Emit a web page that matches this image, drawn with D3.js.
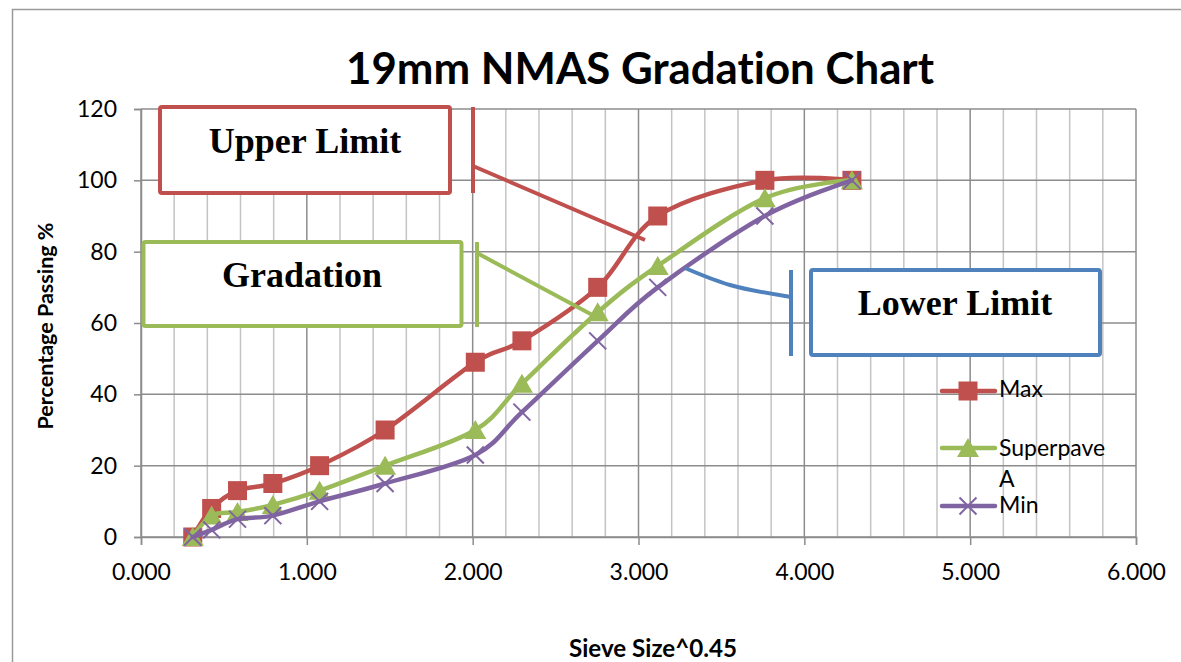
<!DOCTYPE html>
<html>
<head>
<meta charset="utf-8">
<title>19mm NMAS Gradation Chart</title>
<script src="https://cdn.jsdelivr.net/npm/d3@7/dist/d3.min.js"></script>
<style>
  html, body { margin: 0; padding: 0; background: #ffffff; }
  svg { display: block; }
  text { font-variant-ligatures: none; font-feature-settings: "liga" 0; }
</style>
</head>
<body>
<svg id="chart" width="1181" height="662"></svg>
<script>
// Sieve size raised to the 0.45 power (x) and percent passing (y)
const sieveX      = [0.312, 0.426, 0.582, 0.795, 1.077, 1.472, 2.016, 2.297, 2.754, 3.116, 3.762, 4.287];
const maxPassing  = [0, 8, 13, 15, 20, 30, 49, 55, 70, 90, 100, 100];
const superpaveA  = [0, 6, 7, 9, 13, 20, 30, 43, 63, 76, 95, 100];
const minPassing  = [0, 2, 5, 6, 10, 15, 23, 35, 55, 70, 90, 100];
const seriesNames = ["Max", "Superpave A", "Min"];
const xTicks = [0, 1, 2, 3, 4, 5, 6];
const yTicks = [0, 20, 40, 60, 80, 100, 120];
const calloutLabels = ["Upper Limit", "Gradation", "Lower Limit"];

const colors = { Max: "#C0504D", "Superpave A": "#9BBB59", Min: "#8064A2", callout: "#4F81BD" };
const sansFont = "Lato, 'Open Sans', sans-serif";
const serifFont = "'Liberation Serif', 'Times New Roman', serif";

const svg = d3.select("#chart");
const W = 1181, H = 662;
const plot = { left: 141, right: 1136, top: 109, bottom: 537 };

const x = d3.scaleLinear().domain([0, 6]).range([plot.left, plot.right]);
const y = d3.scaleLinear().domain([0, 120]).range([plot.bottom, plot.top]);

// background and outer chart border
svg.append("rect").attr("width", W).attr("height", H).attr("fill", "#fff");
svg.append("rect")
  .attr("x", 12.5).attr("y", 9.5).attr("width", W + 20).attr("height", H + 20)
  .attr("fill", "none").attr("stroke", "#9a9a9a").attr("stroke-width", 1.5);

// helper: scale a text's font size so it spans a given width
function fitWidth(sel, target) {
  const w = sel.node().getComputedTextLength();
  const fs = parseFloat(sel.attr("font-size"));
  sel.attr("font-size", (fs * target / w).toFixed(2));
  return sel;
}

// title
fitWidth(svg.append("text")
  .attr("x", 640).attr("y", 84)
  .attr("text-anchor", "middle")
  .attr("font-family", sansFont).attr("font-weight", 700).attr("font-size", 40)
  .attr("fill", "#000")
  .text("19mm NMAS Gradation Chart"), 588);

// gridlines: light minor verticals every 0.2, darker major lines at ticks
const grid = svg.append("g");
const minorX = d3.range(0, 30.5, 1).map(i => i / 5).filter(v => Math.abs(v - Math.round(v)) > 1e-6);
grid.selectAll(".minor").data(minorX).join("line")
  .attr("x1", d => x(d)).attr("x2", d => x(d))
  .attr("y1", plot.top).attr("y2", plot.bottom)
  .attr("stroke", "#c4c4c4").attr("stroke-width", 1.5);
grid.selectAll(".majorx").data(xTicks).join("line")
  .attr("x1", d => x(d)).attr("x2", d => x(d))
  .attr("y1", plot.top).attr("y2", plot.bottom)
  .attr("stroke", "#8c8c8c").attr("stroke-width", 1.5);
grid.selectAll(".majory").data(yTicks).join("line")
  .attr("x1", plot.left).attr("x2", plot.right)
  .attr("y1", d => y(d)).attr("y2", d => y(d))
  .attr("stroke", "#8c8c8c").attr("stroke-width", 1.5);

// axes
const yAxis = svg.append("g")
  .attr("transform", `translate(${plot.left},0)`)
  .call(d3.axisLeft(y).tickValues(yTicks).tickFormat(d3.format("d")).tickSize(7).tickPadding(17));
const xAxis = svg.append("g")
  .attr("transform", `translate(0,${plot.bottom})`)
  .call(d3.axisBottom(x).tickValues(xTicks).tickFormat(d3.format(".3f")).tickSize(8).tickPadding(19));
[yAxis, xAxis].forEach(a => {
  a.select(".domain").attr("stroke", "#8c8c8c").attr("stroke-width", 1.5);
  a.selectAll(".tick line").attr("stroke", "#8c8c8c").attr("stroke-width", 1.5);
  a.selectAll(".tick text").attr("font-family", sansFont).attr("font-size", 23).attr("fill", "#000");
});

// axis titles
fitWidth(svg.append("text")
  .attr("transform", "translate(53,326) rotate(-90)")
  .attr("text-anchor", "middle")
  .attr("font-family", sansFont).attr("font-weight", 700).attr("font-size", 20)
  .attr("fill", "#000")
  .text("Percentage Passing %"), 207);
fitWidth(svg.append("text")
  .attr("x", 653).attr("y", 657)
  .attr("text-anchor", "middle")
  .attr("font-family", sansFont).attr("font-weight", 700).attr("font-size", 22)
  .attr("fill", "#000")
  .text("Sieve Size^0.45"), 168);

// series
const series = [
  { name: seriesNames[0], values: maxPassing, marker: "square" },
  { name: seriesNames[1], values: superpaveA, marker: "triangle" },
  { name: seriesNames[2], values: minPassing, marker: "cross" }
];

const line = d3.line()
  .x(d => x(d[0])).y(d => y(d[1]))
  .curve(d3.curveCardinal.tension(0));

function drawMarker(g, type, color) {
  if (type === "square") {
    g.append("rect").attr("x", -9.5).attr("y", -9.5).attr("width", 19).attr("height", 19)
      .attr("fill", color);
  } else if (type === "triangle") {
    g.append("path").attr("d", "M0,-10L11,9L-11,9Z").attr("fill", color);
  } else {
    g.append("path").attr("d", "M-8.5,-8.5L8.5,8.5M-8.5,8.5L8.5,-8.5")
      .attr("stroke", color).attr("stroke-width", 2).attr("fill", "none");
  }
}

const seriesLayer = svg.append("g");
series.forEach(s => {
  const pts = sieveX.map((v, i) => [v, s.values[i]]);
  const g = seriesLayer.append("g");
  g.append("path").attr("d", line(pts))
    .attr("fill", "none").attr("stroke", colors[s.name])
    .attr("stroke-width", 4.5).attr("stroke-linejoin", "round").attr("stroke-linecap", "round");
  g.selectAll(".m").data(pts).join("g")
    .attr("transform", d => `translate(${x(d[0])},${y(d[1])})`)
    .each(function () { drawMarker(d3.select(this), s.marker, colors[s.name]); });
});

// legend
const legendRows = [
  { name: "Max", lineY: 391, text: [["Max", 397]] },
  { name: "Superpave A", lineY: 448, text: [["Superpave", 456], ["A", 487]] },
  { name: "Min", lineY: 506, text: [["Min", 513]] }
];
const legend = svg.append("g");
legendRows.forEach((r, i) => {
  const c = colors[r.name];
  legend.append("line").attr("x1", 942).attr("x2", 995).attr("y1", r.lineY).attr("y2", r.lineY)
    .attr("stroke", c).attr("stroke-width", 4.5).attr("stroke-linecap", "round");
  const mg = legend.append("g").attr("transform", `translate(968,${r.lineY})`);
  drawMarker(mg, series[i].marker, c);
  r.text.forEach(([t, by]) => {
    legend.append("text").attr("x", 999).attr("y", by)
      .attr("font-family", sansFont).attr("font-size", 23).attr("fill", "#000").text(t);
  });
});

// callout boxes with accent bar and leader line
const callouts = [
  { label: calloutLabels[0], color: colors.Max,
    box: [160, 107, 290, 86], textX: 305, textY: 153,
    bar: [473, 107, 193], leader: [[473, 166], [645, 240]] },
  { label: calloutLabels[1], color: colors["Superpave A"],
    box: [143.5, 242, 318, 84], textX: 302, textY: 287,
    bar: [477, 242, 327], leader: [[477, 253], [598, 318]] },
  { label: calloutLabels[2], color: colors.callout,
    box: [811, 270, 289, 85], textX: 955, textY: 315,
    bar: [791, 270, 356], leader: [[791, 297], [730, 285], [685, 268]] }
];
const ann = svg.append("g");
callouts.forEach(c => {
  ann.append("rect")
    .attr("x", c.box[0]).attr("y", c.box[1]).attr("width", c.box[2]).attr("height", c.box[3])
    .attr("rx", 2).attr("fill", "#fff").attr("stroke", c.color).attr("stroke-width", 4);
  ann.append("text").attr("x", c.textX).attr("y", c.textY)
    .attr("text-anchor", "middle")
    .attr("font-family", serifFont).attr("font-weight", 700).attr("font-size", 36)
    .attr("fill", "#000").text(c.label);
  ann.append("line").attr("x1", c.bar[0]).attr("x2", c.bar[0]).attr("y1", c.bar[1]).attr("y2", c.bar[2])
    .attr("stroke", c.color).attr("stroke-width", 4);
  ann.append("path")
    .attr("d", d3.line().curve(d3.curveCatmullRom)(c.leader))
    .attr("fill", "none").attr("stroke", c.color).attr("stroke-width", 4);
});
</script>
</body>
</html>
